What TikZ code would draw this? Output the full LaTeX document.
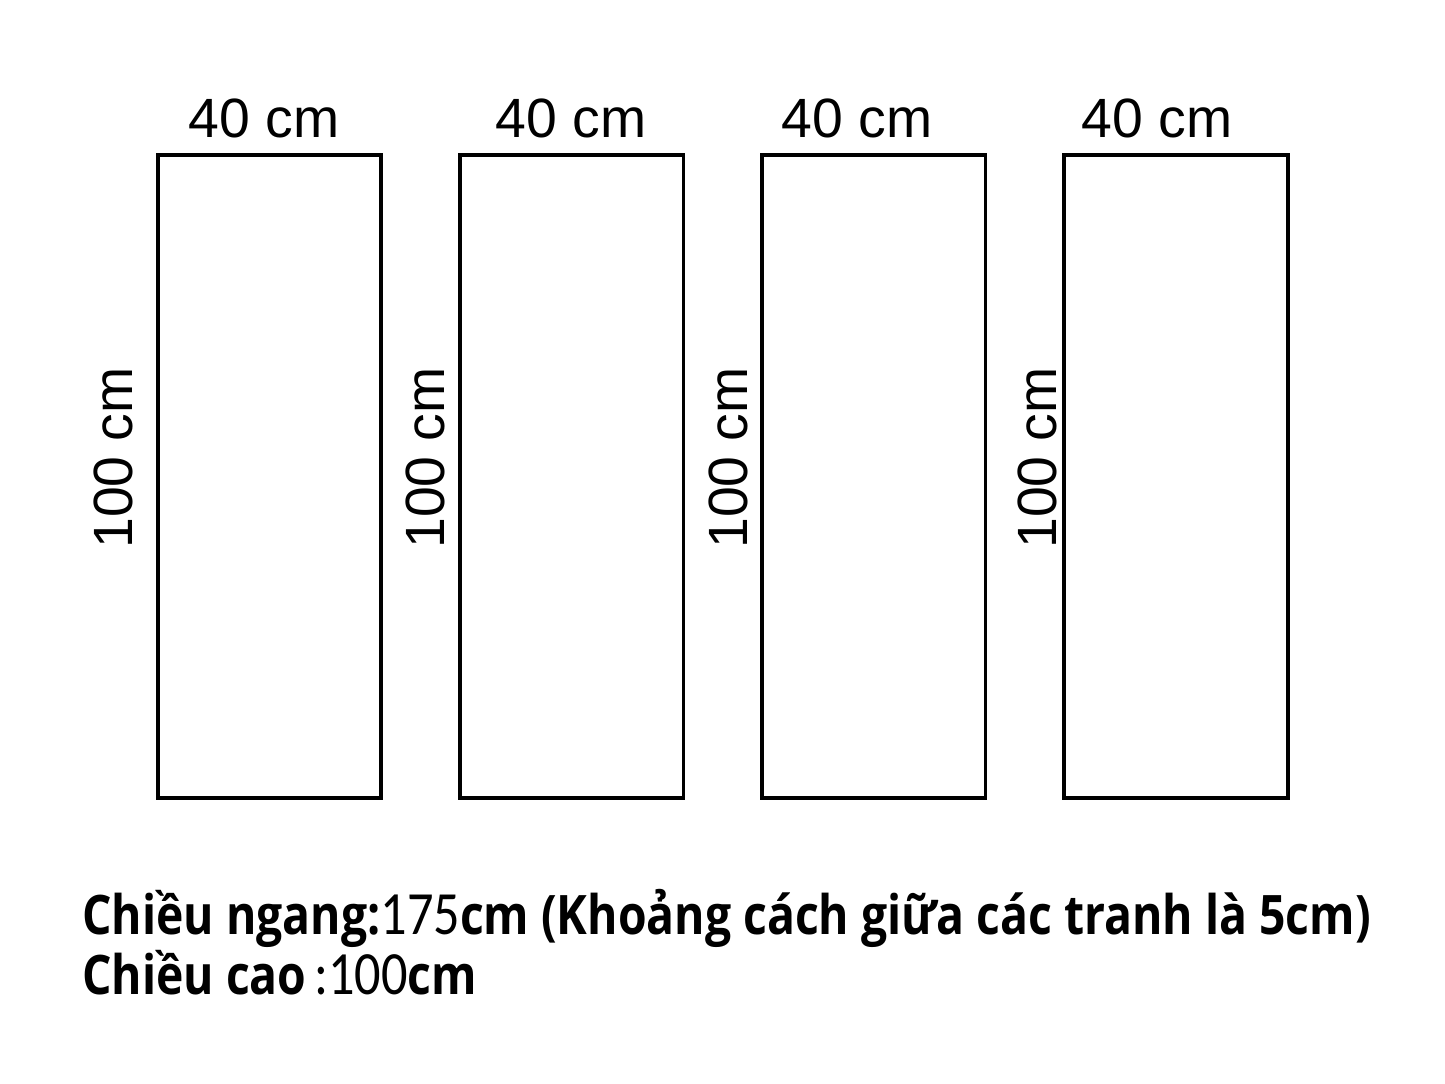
\documentclass[tikz,border=0pt]{standalone}
\usepackage{fontspec}
\setmainfont{Liberation Sans}
\newfontfamily\notefont{Open Sans}
\newfontfamily\digitfont{Carlito}
\usetikzlibrary{positioning}
\newcommand{\lightdigits}[1]{{\digitfont\mdseries\fontsize{35}{36}\selectfont #1}}

\begin{document}
\begin{tikzpicture}
        [x = 0.02cm, y = 0.02cm,
        panel/.style = {draw, line width = 0.075cm, minimum width = 4.47cm, minimum height = 12.87cm, inner sep = 0},
        width label/.style = {anchor = base, inner sep = 0, font = {\fontsize{31.5}{36}\selectfont}},
        height label/.style = {anchor = base, rotate = 90, inner sep = 0, font = {\fontsize{31.5}{36}\selectfont}},
        note/.style = {anchor = base west, inner sep = 0, font = {\notefont\bfseries\fontsize{31}{36}\selectfont}},
        node distance = 1.5cm]
        \useasboundingbox (0, 0) rectangle (1445, 1084);
        \node[panel] (p1) at (269.5, 607.5) {};
        \node[panel] (p2) [right=of p1] {};
        \node[panel] (p3) [right=of p2] {};
        \node[panel] (p4) [right=of p3] {};
        \node[width label] (w1) at (264, 946) {40 cm};
        \node[width label] (w2) at (571, 946) {40 cm};
        \node[width label] (w3) at (857, 946) {40 cm};
        \node[width label] (w4) at (1157, 946) {40 cm};
        \node[height label] (h1) at (132, 626) {100 cm};
        \node[height label] (h2) at (444, 626) {100 cm};
        \node[height label] (h3) at (747, 626) {100 cm};
        \node[height label] (h4) at (1056, 626) {100 cm};
        \node[note] (wide) at (82, 149) {\scalebox{0.85}[1]{Chiều ngang:\lightdigits{175}cm (Khoảng cách giữa các tranh là 5cm)}};
        \node[note] (high) at (82, 89) {\scalebox{0.85}[1]{Chiều cao\,\lightdigits{:100}cm}};
    \end{tikzpicture}
\end{document}
